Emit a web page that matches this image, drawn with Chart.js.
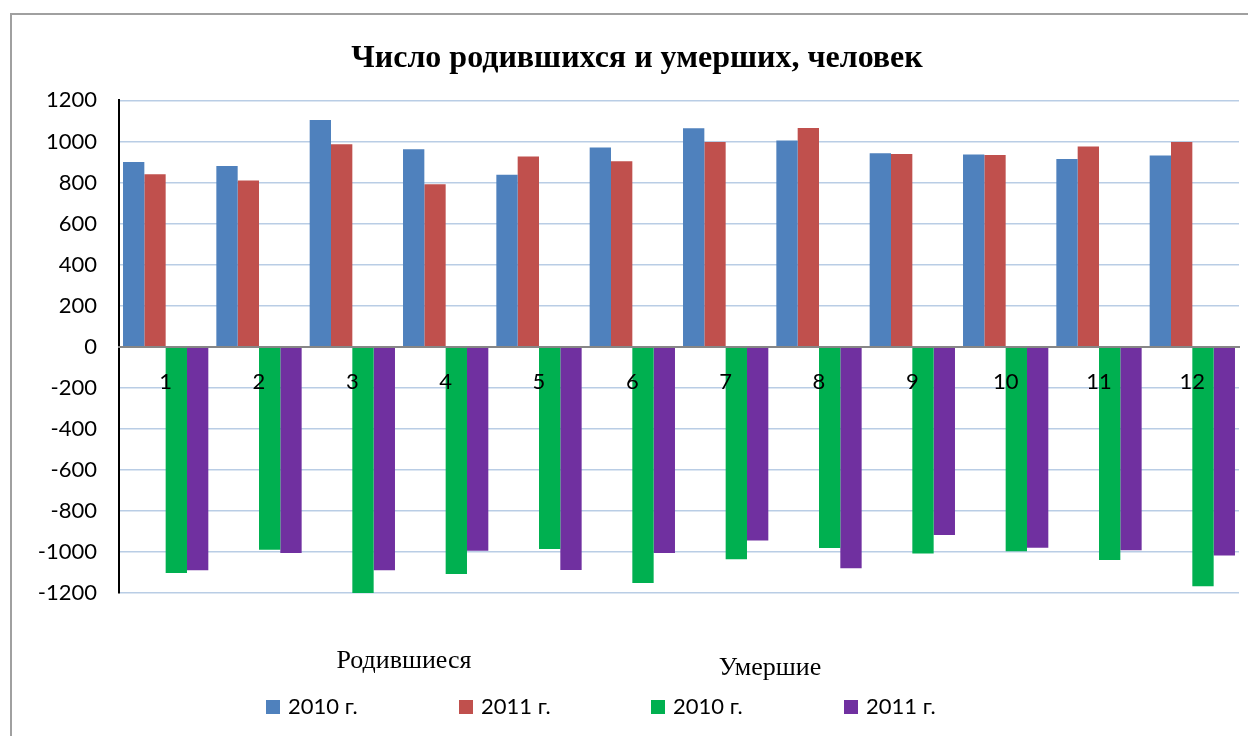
<!DOCTYPE html>
<html>
<head>
<meta charset="utf-8">
<script src="https://cdn.jsdelivr.net/npm/chart.js@4"></script>
<style>
    body { margin: 0; background: #fff; overflow: hidden; }
    #wrap { position: relative; width: 1248px; height: 736px; }
    #frame {
        position: absolute; left: 10px; top: 13px; width: 1300px; height: 800px;
        border-left: 2px solid #a0a0a0; border-top: 2px solid #a0a0a0;
    }
    #chart { position: absolute; left: 0; top: 0; }
</style>
</head>
<body>
<div id="wrap">
    <div id="frame"></div>
    <canvas id="chart" width="1248" height="736"></canvas>
</div>
<script>
// data
const months = ["1", "2", "3", "4", "5", "6", "7", "8", "9", "10", "11", "12"];
const born2010 = [900, 880, 1105, 962, 838, 971, 1064, 1005, 942, 937, 915, 931];
const born2011 = [840, 810, 986, 792, 927, 903, 997, 1065, 939, 934, 975, 997];
const died2010 = [-1102, -989, -1200, -1107, -986, -1151, -1036, -981, -1007, -996, -1039, -1167];
const died2011 = [-1089, -1005, -1089, -994, -1088, -1005, -944, -1080, -918, -979, -992, -1017];
const seriesNames = ["2010 г.", "2011 г.", "2010 г.", "2011 г."];
const groupNames = ["Родившиеся", "Умершие"];
const colors = ["#4f81bd", "#c0504d", "#00b050", "#7030a0"];

const sans = "Lato, 'Open Sans', sans-serif";
const serif = "'Liberation Serif', 'DejaVu Serif', serif";

// legend with two group headers
const groupLegend = {
    id: "groupLegend",
    afterDraw(chart) {
        const ctx = chart.ctx;
        const itemX = [266, 459, 651, 844];
        const boxY = 700, box = 14;
        ctx.save();
        chart.data.datasets.forEach((ds, i) => {
            ctx.fillStyle = ds.backgroundColor;
            ctx.fillRect(itemX[i], boxY, box, box);
            ctx.fillStyle = "#000";
            ctx.font = "22px " + sans;
            ctx.textAlign = "left";
            ctx.textBaseline = "middle";
            ctx.fillText(ds.label, itemX[i] + 22, boxY + box / 2);
        });
        ctx.font = "26px " + serif;
        ctx.textAlign = "center";
        ctx.textBaseline = "alphabetic";
        ctx.fillText(groupNames[0], 404, 668);
        ctx.fillText(groupNames[1], 770, 675);
        ctx.restore();
    }
};

const datasets = [born2010, born2011, died2010, died2011].map((vals, i) => ({
    label: seriesNames[i],
    data: vals,
    backgroundColor: colors[i],
    borderWidth: 0,
    categoryPercentage: 0.914,
    barPercentage: 1.0
}));

new Chart(document.getElementById("chart"), {
    type: "bar",
    data: { labels: months, datasets: datasets },
    options: {
        responsive: false,
        animation: false,
        layout: { padding: { left: 35, right: 9, top: 0, bottom: 143 } },
        plugins: {
            legend: { display: false },
            tooltip: { enabled: false },
            title: {
                display: true,
                text: "Число родившихся и умерших, человек",
                color: "#000",
                font: { family: serif, size: 32, weight: "bold" },
                padding: { top: 40, bottom: 22 }
            }
        },
        scales: {
            x: {
                position: { y: 0 },
                grid: { display: false, drawTicks: false },
                border: { display: true, color: "#868686", width: 2, z: 1 },
                ticks: {
                    color: "#000",
                    font: { family: sans, size: 22 },
                    padding: 22,
                    maxRotation: 0,
                    autoSkip: false,
                    z: 1
                }
            },
            y: {
                min: -1200,
                max: 1200,
                afterFit: s => { s.width = 84; },
                grid: { color: "#b9cde5", lineWidth: 1.5, drawTicks: false },
                border: { display: true, color: "#000", width: 2 },
                ticks: {
                    stepSize: 200,
                    color: "#000",
                    font: { family: sans, size: 22 },
                    padding: 22,
                    callback: v => String(v)
                }
            }
        }
    },
    plugins: [groupLegend]
});
</script>
</body>
</html>
